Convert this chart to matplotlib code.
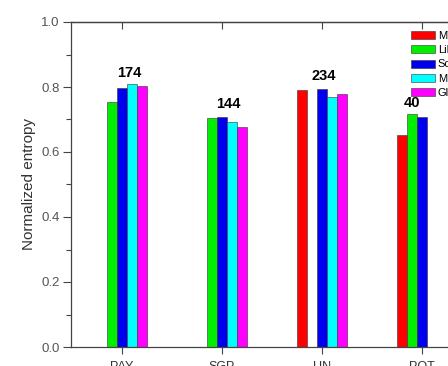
import matplotlib
matplotlib.use("Agg")
import matplotlib.pyplot as plt
import numpy as np
from matplotlib.ticker import MultipleLocator

plt.rcParams['font.family'] = ['Liberation Sans', 'DejaVu Sans']

categories = ["PAY", "SGP", "UN", "POT"]
series_names = ["MTE", "LiNGAM", "Sobol", "MI", "Glasso"]
colors = ["#ff0000", "#00ee00", "#0000ee", "#00ffff", "#ff00ff"]
# nan = no bar for that method
values = {
    "MTE":    [np.nan, np.nan, 0.790, 0.651],
    "LiNGAM": [0.755, 0.704, np.nan, 0.716],
    "Sobol":  [0.796, 0.707, 0.794, 0.709],
    "MI":     [0.808, 0.691, 0.770, np.nan],
    "Glasso": [0.803, 0.678, 0.778, np.nan],
}
counts = ["174", "144", "234", "40"]
count_y = [0.843, 0.748, 0.834, 0.752]
count_dx = [0.07, 0.06, 0.02, -0.1]

fig = plt.figure(figsize=(4.48, 3.66), dpi=100)
ax = fig.add_axes([71/448, 19/366, 401/448, 325/366])

x = np.arange(1, len(categories) + 1)
w = 0.1
for i, name in enumerate(series_names):
    ax.bar(x + (i - 2) * w, values[name], width=w, color=colors[i],
           edgecolor="#333333", linewidth=0.4, label=name)

for xi, c, cy, dx in zip(x, counts, count_y, count_dx):
    ax.text(xi + dx, cy, c, ha="center", va="center", fontsize=10.5,
            fontweight="bold", color="black")

ax.set_xlim(0.49, 4.5)
ax.set_ylim(0, 1.0)
ax.set_xticks(x)
ax.set_xticklabels(categories)
ax.yaxis.set_major_locator(MultipleLocator(0.2))
ax.yaxis.set_minor_locator(MultipleLocator(0.1))
ax.yaxis.set_major_formatter(matplotlib.ticker.FormatStrFormatter('%.1f'))
ax.tick_params(axis='y', which='major', direction='out', length=6, width=0.8,
               labelsize=9.5, labelcolor="#555555", color="#444444", pad=2)
ax.tick_params(axis='y', which='minor', direction='out', length=3.5, width=0.8,
               color="#444444")
ax.tick_params(axis='x', which='major', direction='out', length=5, width=0.8,
               labelsize=9, labelcolor="#333333", color="#444444", pad=5)

top = ax.secondary_xaxis('top')
top.set_xticks(x)
top.tick_params(direction='in', length=5, width=0.8, color="#444444",
                labeltop=False)
top.spines['top'].set_color("#444444")
top.spines['top'].set_linewidth(0.9)

for s in ax.spines.values():
    s.set_color("#444444")
    s.set_linewidth(0.9)
ax.set_ylabel("Normalized entropy", fontsize=11, color="#333333", labelpad=4)

ax.legend(loc="upper left", bbox_to_anchor=(411/448, 1 - 31/366),
          bbox_transform=fig.transFigure, frameon=False, fontsize=8,
          handlelength=2.2, handleheight=0.75, labelspacing=0.38,
          borderpad=0, borderaxespad=0, handletextpad=0.2)

fig.savefig("out.png", dpi=100)
